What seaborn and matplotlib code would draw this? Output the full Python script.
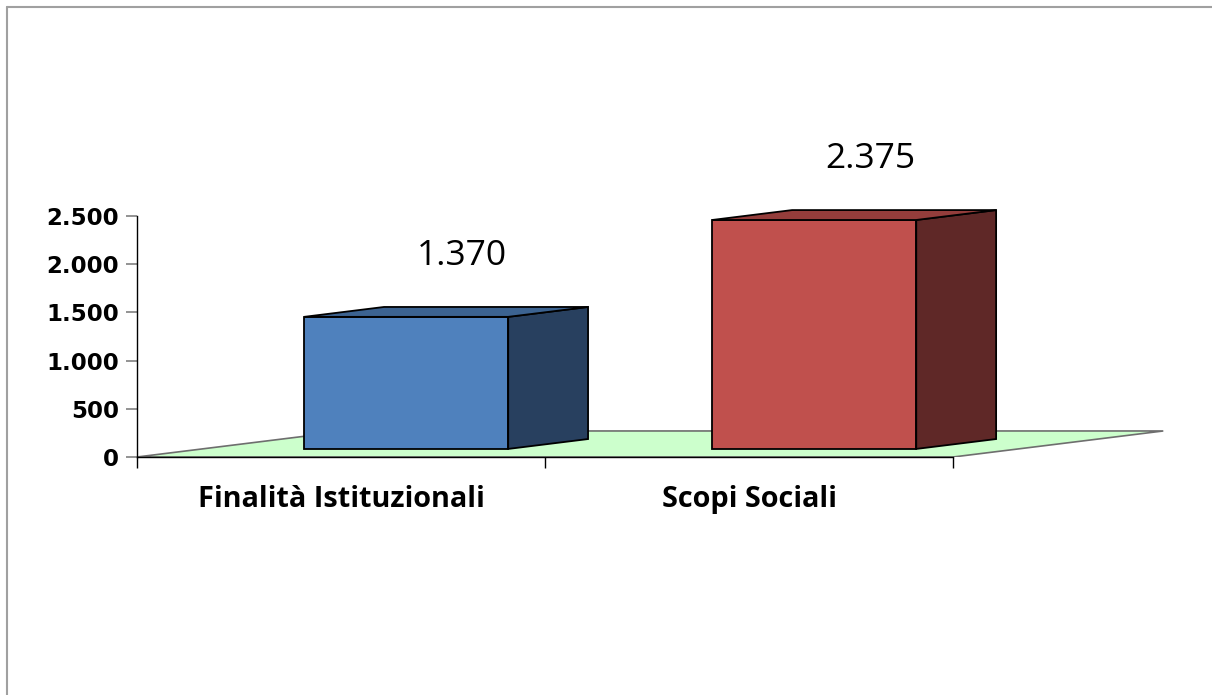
import matplotlib
matplotlib.use("Agg")
import matplotlib.pyplot as plt
from matplotlib.patches import Polygon
from matplotlib.lines import Line2D
import seaborn as sns
import pandas as pd

# -----------------------------
# Data
# -----------------------------
categories = ["Finalità Istituzionali", "Scopi Sociali"]
values = [1370, 2375]
value_labels = ["1.370", "2.375"]
y_ticks = [0, 500, 1000, 1500, 2000, 2500]
y_tick_labels = ["0", "500", "1.000", "1.500", "2.000", "2.500"]

front_colors = ["#4F81BD", "#C0504D"]
side_colors = ["#28405F", "#5F2827"]
top_colors = ["#3C6391", "#943D3B"]

# fake 3d depth of the floor (data units) and where the bars sit in it
DX, DY = 0.515, 270
BAR_D0, BAR_D1 = 0.31, 0.69
BAR_W = 0.50

sns.set_style("white")
plt.rcParams["text.color"] = "black"
plt.rcParams["xtick.color"] = "black"
plt.rcParams["ytick.color"] = "black"

W, H = 1212, 695
fig = plt.figure(figsize=(W / 100, H / 100), dpi=100)
ax = fig.add_axes([137 / W, 1 - 457 / H, (1180 - 137) / W, (457 - 130) / H])

df = pd.DataFrame({"cat": categories, "val": values})
sns.barplot(data=df, x="cat", y="val", hue="cat", palette=front_colors,
            saturation=1, width=BAR_W, edgecolor="black", linewidth=1.3,
            legend=False, ax=ax, zorder=3)

# -----------------------------
# Floor
# -----------------------------
floor = Polygon([(-0.5, 0), (1.5, 0), (1.5 + DX, DY), (-0.5 + DX, DY)],
                closed=True, facecolor="#CCFFCC", edgecolor="#6E6E6E",
                linewidth=1.2, zorder=1)
ax.add_patch(floor)

# -----------------------------
# Turn the flat bars into boxes
# -----------------------------
ddx = DX * (BAR_D1 - BAR_D0)
ddy = DY * (BAR_D1 - BAR_D0)
bars = sorted([p for p in ax.patches if p is not floor], key=lambda p: p.get_x())
for i, bar in enumerate(bars):
    x0 = bar.get_x() + DX * BAR_D0
    y0 = DY * BAR_D0
    w = bar.get_width()
    h = bar.get_height()
    bar.set_x(x0)
    bar.set_y(y0)
    side = [(x0 + w, y0), (x0 + w + ddx, y0 + ddy),
            (x0 + w + ddx, y0 + h + ddy), (x0 + w, y0 + h)]
    top = [(x0, y0 + h), (x0 + w, y0 + h),
           (x0 + w + ddx, y0 + h + ddy), (x0 + ddx, y0 + h + ddy)]
    ax.add_patch(Polygon(side, closed=True, facecolor=side_colors[i],
                         edgecolor="black", linewidth=1.3, zorder=3))
    ax.add_patch(Polygon(top, closed=True, facecolor=top_colors[i],
                         edgecolor="black", linewidth=1.3, zorder=3))

# value labels
for i, (v, lbl) in enumerate(zip(values, value_labels)):
    ax.text(i + 0.296, v + 715, lbl, ha="center", va="center",
            fontsize=25.5, family="Open Sans", color="black")

# -----------------------------
# Axes styling
# -----------------------------
ax.set_xlim(-0.5, 2.056)
ax.set_ylim(0, 3392)
ax.set_xlabel("")
ax.set_ylabel("")
ax.patch.set_visible(False)

for s in ["top", "right"]:
    ax.spines[s].set_visible(False)
ax.spines["left"].set_bounds(0, 2500)
ax.spines["bottom"].set_bounds(-0.5, 1.5)
for s in ["left", "bottom"]:
    ax.spines[s].set_color("black")
    ax.spines[s].set_linewidth(1.0)
    ax.spines[s].set_zorder(2)

ax.set_yticks(y_ticks, y_tick_labels)
ax.tick_params(axis="y", left=True, length=8, width=1.2, color="#808080",
               labelcolor="black", labelsize=16.5, pad=5)
for t in ax.get_yticklabels():
    t.set_fontweight("bold")
    t.set_family("DejaVu Sans")

ax.set_xticks([0, 1], categories)
ax.set_xticks([-0.5, 0.5, 1.5], minor=True)
ax.tick_params(axis="x", which="major", length=0, pad=20.5, labelcolor="black")
ax.tick_params(axis="x", which="minor", bottom=True, length=8, width=1.0,
               color="black")
for t in ax.get_xticklabels():
    t.set_fontweight("bold")
    t.set_family("Open Sans")
    t.set_fontsize(20.8)

# outer chart frame (only left and top edges are visible in the picture)
fig.add_artist(Line2D([6.5 / W, 6.5 / W], [0, 1 - 6.5 / H], color="#A0A0A0",
                      linewidth=1.5))
fig.add_artist(Line2D([6.5 / W, 1], [1 - 6.5 / H, 1 - 6.5 / H], color="#A0A0A0",
                      linewidth=1.5))

fig.savefig("out.png", dpi=100)
